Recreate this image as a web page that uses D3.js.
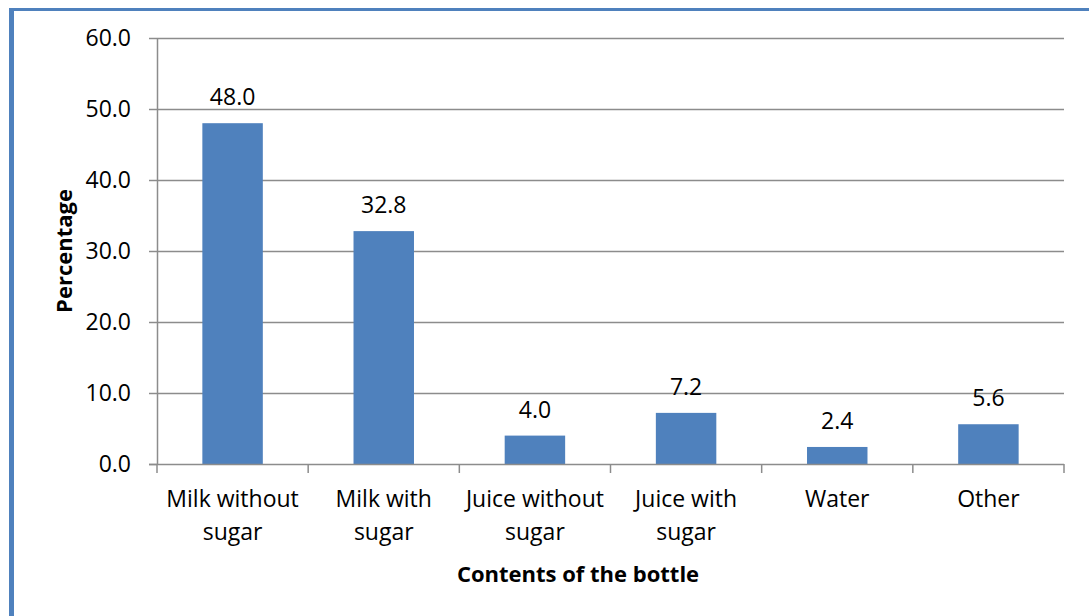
<!DOCTYPE html>
<html>
<head>
<meta charset="utf-8">
<script src="https://cdn.jsdelivr.net/npm/d3@7"></script>
<style>
  html, body { margin: 0; padding: 0; background: #fff; }
  svg { display: block; }
  text { font-family: "Open Sans", "Liberation Sans", sans-serif; fill: #000; }
</style>
</head>
<body>
<svg id="chart" width="1089" height="616"></svg>
<script>
// Contents of the bottle — share of respondents (%)
const categories = [
  ["Milk without", "sugar"],
  ["Milk with", "sugar"],
  ["Juice without", "sugar"],
  ["Juice with", "sugar"],
  ["Water"],
  ["Other"]
];
const percentages = [48.0, 32.8, 4.0, 7.2, 2.4, 5.6];
const yTicks = [0, 10, 20, 30, 40, 50, 60];

const svg = d3.select("#chart");
const W = 1089, H = 616;
const margin = { left: 157, right: 25, top: 38, bottom: 152 };
const plotW = W - margin.left - margin.right;
const plotH = H - margin.top - margin.bottom;
const FONT = "'Open Sans', 'Liberation Sans', sans-serif";
const LABEL_SIZE = 23;
const TITLE_SIZE = 22;

// Outer frame
svg.append("rect")
  .attr("x", 11.5).attr("y", 9.5)
  .attr("width", W + 20).attr("height", H + 20)
  .attr("fill", "none")
  .attr("stroke", "#4F81BD")
  .attr("stroke-width", 3);
svg.append("line")
  .attr("x1", 11.5).attr("x2", 11.5).attr("y1", 8).attr("y2", H)
  .attr("stroke", "#4F81BD").attr("stroke-width", 5);

const g = svg.append("g").attr("transform", `translate(${margin.left},${margin.top})`);

const keys = categories.map(c => c.join(" "));
const x = d3.scaleBand().domain(keys).range([0, plotW]).paddingInner(0.6).paddingOuter(0.3);
const y = d3.scaleLinear().domain([0, 60]).range([plotH, 0]);

// Horizontal gridlines
g.append("g")
  .selectAll("line")
  .data(yTicks.filter(t => t > 0))
  .join("line")
  .attr("x1", 0).attr("x2", plotW)
  .attr("y1", d => Math.round(y(d)) + 0.5).attr("y2", d => Math.round(y(d)) + 0.5)
  .attr("stroke", "#8C8C8C").attr("stroke-width", 1.5);

// Bars
g.append("g")
  .selectAll("rect")
  .data(percentages)
  .join("rect")
  .attr("x", (d, i) => x(keys[i]))
  .attr("y", d => y(d))
  .attr("width", x.bandwidth())
  .attr("height", d => y(0) - y(d))
  .attr("fill", "#4F81BD");

// Value labels
g.append("g")
  .selectAll("text")
  .data(percentages)
  .join("text")
  .attr("x", (d, i) => x(keys[i]) + x.bandwidth() / 2)
  .attr("y", d => y(d) - 18)
  .attr("text-anchor", "middle")
  .attr("font-size", LABEL_SIZE)
  .text(d => d.toFixed(1));

// Y axis
const yAxis = g.append("g")
  .call(d3.axisLeft(y).tickValues(yTicks).tickSize(8).tickSizeOuter(0).tickPadding(18).tickFormat(d => d.toFixed(1)));
yAxis.select(".domain").attr("stroke", "#8C8C8C").attr("stroke-width", 1.5);
yAxis.selectAll(".tick line").attr("stroke", "#8C8C8C").attr("stroke-width", 1.5);
yAxis.selectAll(".tick text").attr("font-size", LABEL_SIZE).attr("fill", "#000")
  .style("font-family", FONT);

// X axis with category boundary ticks
const xAxisG = g.append("g").attr("transform", `translate(0,${plotH})`);
xAxisG.append("line")
  .attr("x1", -8).attr("x2", plotW).attr("y1", 0.5).attr("y2", 0.5)
  .attr("stroke", "#8C8C8C").attr("stroke-width", 1.5);
const boundaries = d3.range(keys.length + 1).map(i => i * plotW / keys.length);
xAxisG.selectAll("line.bound")
  .data(boundaries)
  .join("line")
  .attr("class", "bound")
  .attr("x1", d => d).attr("x2", d => d)
  .attr("y1", 0).attr("y2", 9)
  .attr("stroke", "#8C8C8C").attr("stroke-width", 1.5);

const catLabels = xAxisG.selectAll("text.cat")
  .data(categories)
  .join("text")
  .attr("class", "cat")
  .attr("text-anchor", "middle")
  .attr("font-size", LABEL_SIZE)
  .attr("transform", (d, i) => `translate(${x(keys[i]) + x.bandwidth() / 2},43)`);
catLabels.selectAll("tspan")
  .data(d => d)
  .join("tspan")
  .attr("x", 0)
  .attr("dy", (d, i) => i === 0 ? 0 : 33)
  .text(d => d);

// Axis titles
svg.append("text")
  .attr("x", 578)
  .attr("y", 582)
  .attr("text-anchor", "middle")
  .attr("font-size", TITLE_SIZE)
  .attr("font-weight", "bold")
  .text("Contents of the bottle");

svg.append("text")
  .attr("transform", `translate(72,${margin.top + plotH / 2}) rotate(-90)`)
  .attr("text-anchor", "middle")
  .attr("font-size", TITLE_SIZE)
  .attr("font-weight", "bold")
  .text("Percentage");
</script>
</body>
</html>
